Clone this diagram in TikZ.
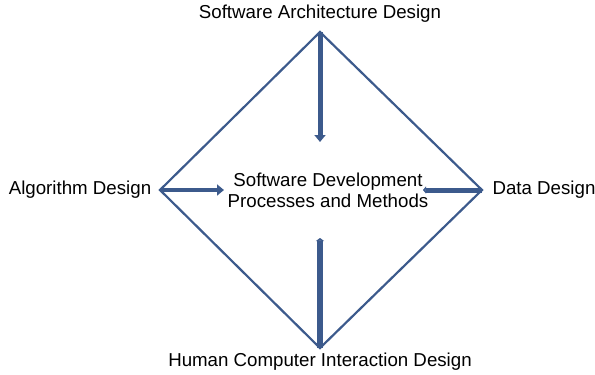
\documentclass[tikz,border=0pt]{standalone}
\usepackage{fontspec}
\setmainfont{Liberation Sans}
\usetikzlibrary{arrows.meta, positioning}
\definecolor{diagblue}{RGB}{60,90,140}

\begin{document}
\begin{tikzpicture}[x=1pt,y=-1pt,
       label/.style={font=\fontsize{18.7}{21}\selectfont,inner sep=0pt,align=center},
       edge/.style={draw=diagblue,line width=2.2pt,line join=miter},
       push/.style={draw=diagblue,-{Triangle[length=7pt,width=11pt]}}]
       \useasboundingbox (0,0) rectangle (595,375);

       % corners of the diamond
       \coordinate (T) at (320,32);
       \coordinate (L) at (160,190);
       \coordinate (R) at (482,190);
       \coordinate (B) at (320,348);

       \node[label] (arch) at (320,14)  {Software Architecture Design};
       \node[label] (algo) at (80,190)  {Algorithm Design};
       \node[label] (data) at (544,190) {Data Design};
       \node[label] (hci)  at (320,362) {Human Computer Interaction Design};
       \node[label] (core) at (328,190) {Software Development\\Processes and Methods};

       % arrow ends near the centre text
       \coordinate (Te) at (320,142);
       \coordinate (Le) at (224,190);
       \coordinate (Re) at (423,190);
       \coordinate (Be) at (320,238);

       \draw[edge] (T) -- (R) -- (B) -- (L) -- cycle;

       \draw[push,line width=5pt]   (T) -- (Te);
       \draw[push,line width=3.5pt] (L) -- (Le);
       \draw[push,line width=5pt,-{Triangle[length=3pt,width=7pt]}]   (R) -- (Re);
       \draw[push,line width=6pt,-{Triangle[length=3pt,width=8pt]}]   (B) -- (Be);
\end{tikzpicture}
\end{document}
